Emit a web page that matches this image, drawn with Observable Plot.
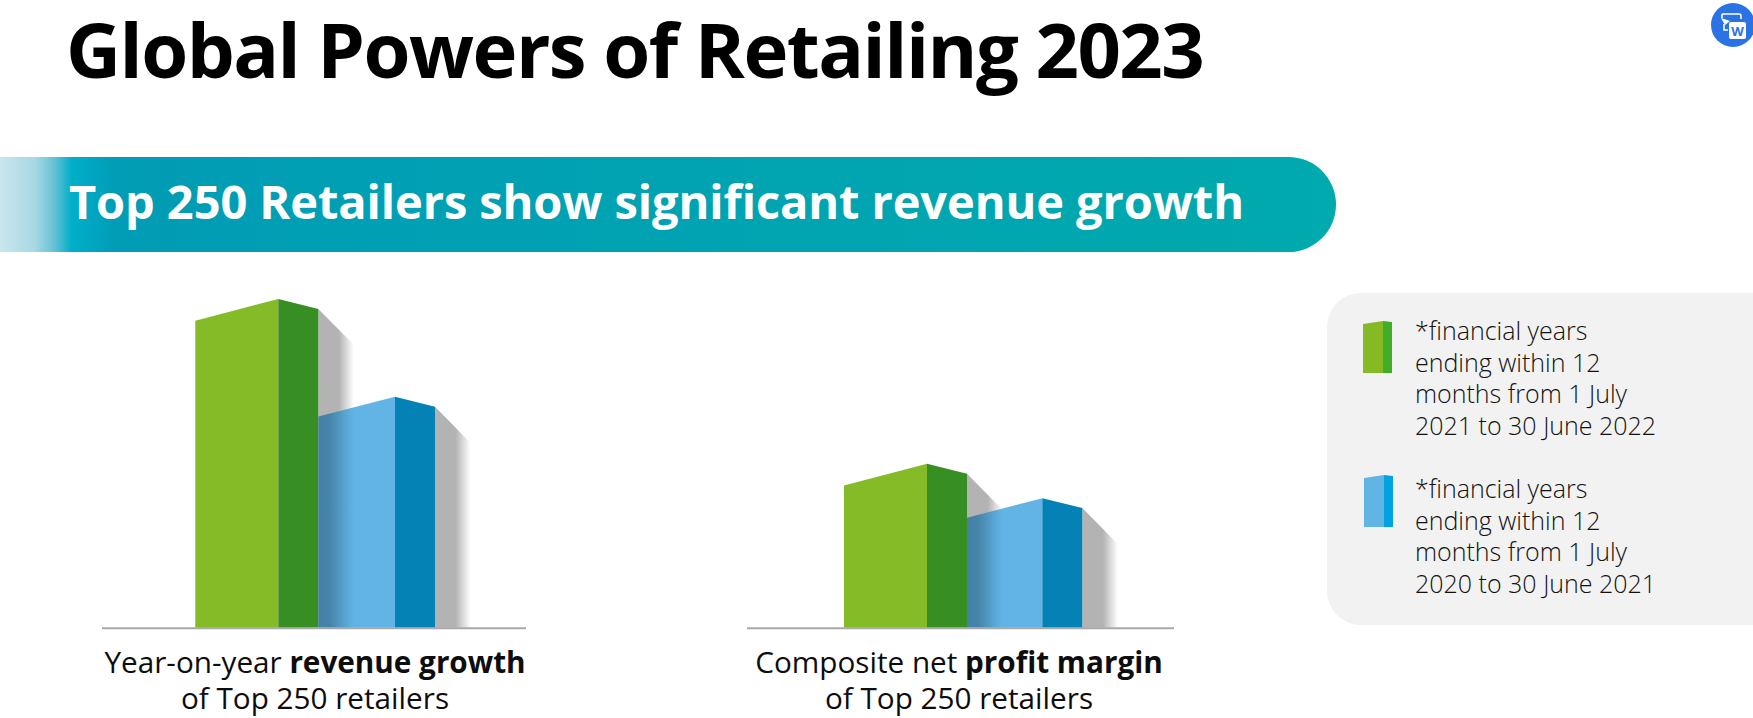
<!DOCTYPE html>
<html>
<head>
<meta charset="utf-8">
<script src="https://cdn.jsdelivr.net/npm/d3@7"></script>
<script src="https://cdn.jsdelivr.net/npm/@observablehq/plot@0.6"></script>
<style>
html,body{margin:0;padding:0;background:#fff;width:1753px;height:718px;overflow:hidden;font-family:"Open Sans",sans-serif;}
.abs{position:absolute;white-space:nowrap;}
svg{background:transparent !important;}
#title{left:66px;top:-3px;font-size:76px;line-height:104px;font-weight:700;color:#000;letter-spacing:-1.55px;}
#pill{left:0;top:157px;width:1336px;height:95px;border-radius:0 47.5px 47.5px 0;
 background:linear-gradient(90deg,#cae6ed 0,#a6d8e4 35px,#62c0d4 55px,#25b5cd 65px,#00afca 72px,#019cb5 115px,#00aaad 100%);}
#sub{left:69px;top:156px;font-size:47px;line-height:90px;font-weight:700;color:#fff;letter-spacing:-0.1px;}
#panel{left:1327px;top:293px;width:426px;height:332px;background:#f2f2f2;border-radius:34px 0 0 34px;}
.cap{width:520px;text-align:center;font-size:29.7px;line-height:36px;color:#0d0d0d;}
.leg{left:1415px;font-size:25px;line-height:31.5px;font-weight:300;color:#111;}
</style>
</head>
<body>
<div id="title" class="abs">Global Powers of Retailing 2023</div>
<div id="pill" class="abs"></div>
<div id="sub" class="abs">Top 250 Retailers show significant revenue growth</div>
<div id="panel" class="abs"></div>
<div id="c0" class="abs"></div>
<div id="c1" class="abs"></div>
<div id="l0" class="abs"></div>
<div id="l1" class="abs"></div>
<div class="abs cap" style="left:55px;top:644px">Year-on-year <b>revenue growth</b><br>of Top 250 retailers</div>
<div class="abs cap" style="left:699px;top:644px">Composite net <b>profit margin</b><br>of Top 250 retailers</div>
<div class="abs leg" style="top:315px">*financial years<br>ending within 12<br>months from 1 July<br>2021 to 30 June 2022</div>
<div class="abs leg" style="top:473px">*financial years<br>ending within 12<br>months from 1 July<br>2020 to 30 June 2021</div>
<svg class="abs" style="left:1711px;top:3px" width="42" height="44" viewBox="0 0 42 44">
 <circle cx="22" cy="22" r="22" fill="#2b72e4"/>
 <path d="M11 11h17a2 2 0 0 1 2 2v3M11 11v4M13 21v6h4" fill="none" stroke="#fff" stroke-width="1.6"/>
 <path d="M10 15l9 3-5 4z" fill="#fff"/>
 <rect x="18" y="19" width="17" height="17" rx="2" fill="#fff"/>
 <text x="26.5" y="33" text-anchor="middle" font-size="13" font-weight="700" fill="#2b72e4" font-family="Open Sans">W</text>
</svg>
<script>
// Relative bar heights (tallest bar = 100); the chart prints no figures.
const metrics = ["Year-on-year revenue growth", "Composite net profit margin"];
const fy2022 = [100, 46.3];
const fy2021 = [68.8, 35.8];
const legendLabels = ["FY2022", "FY2021"];

// Pseudo-3D styling
const colors = {green:"#85bb27", greenSide:"#378e23", blue:"#61b4e5", blueSide:"#0482b5", shade:"#b3b3b3"};
const legendColors = [["#85ba25","#41ae27"],["#60b5e5","#00a3e0"]];

const defsMark = (p) => () => {
  const defs = d3.create("svg:defs");
  const g1 = defs.append("linearGradient").attr("id", p+"shade");
  g1.append("stop").attr("offset","58%").attr("stop-color",colors.shade);
  g1.append("stop").attr("offset","100%").attr("stop-color","#fff");
  const g2 = defs.append("linearGradient").attr("id", p+"blue");
  g2.append("stop").attr("offset","0%").attr("stop-color","#4481a6");
  g2.append("stop").attr("offset","14%").attr("stop-color","#4683a9");
  g2.append("stop").attr("offset","46%").attr("stop-color",colors.blue);
  g2.append("stop").attr("offset","100%").attr("stop-color",colors.blue);
  return defs.node();
};

function face(x0, x1, top0, top1, fill) {
  return Plot.area([{x:x0,y:top0},{x:x1,y:top1}], {x1:"x", y1:()=>0, y2:"y", fill});
}

function building(i, opts) {
  const {width, start, blueFace} = opts;
  const g = fy2022[i], b = fy2021[i];
  const gRise = 7.1, bRise = 6.4, drop = 3.25, fall = 11.7, shadeW = 35.5;
  const a0 = 0, a1 = 83, a2 = 123, b1 = a2 + blueFace, b2 = b1 + 40;
  const p = "c"+i;
  return Plot.plot({
    width, height: 360,
    marginTop:0, marginBottom:0, marginLeft:0, marginRight:0,
    x:{axis:null, domain:[-start, width-start], range:[0,width]},
    y:{axis:null, domain:[0,100], range:[347.7,40.7]},
    marks:[
      defsMark(p),
      face(a2, a2+shadeW, g+gRise-drop, g+gRise-drop-fall, `url(#${p}shade)`),
      face(b2, b2+shadeW, b+bRise-drop, b+bRise-drop-fall, `url(#${p}shade)`),
      face(a0, a1, g, g+gRise, colors.green),
      face(a1, a2, g+gRise, g+gRise-drop, colors.greenSide),
      face(a2, b1, b, b+bRise, `url(#${p}blue)`),
      face(b1, b2, b+bRise, b+bRise-drop, colors.blueSide),
      Plot.ruleY([0], {stroke:"#a9a9a9", strokeWidth:2})
    ]
  });
}

function place(id, node, left, top) {
  const el = document.getElementById(id);
  el.style.left = left+"px"; el.style.top = top+"px";
  el.appendChild(node);
}
place("c0", building(0, {width:424, start:93.3, blueFace:76.7}), 102, 280);
place("c1", building(1, {width:427, start:97, blueFace:75.3}), 747, 280);

function swatch(i) {
  const [front, side] = legendColors[i];
  return Plot.plot({
    width:30, height:54, marginTop:0, marginBottom:0, marginLeft:0, marginRight:0,
    x:{axis:null, domain:[0,30], range:[0,30]},
    y:{axis:null, domain:[0,54], range:[53,-1]},
    marks:[
      face(0, 20, 49, 52, front),
      face(20, 29, 52, 51, side)
    ]
  });
}
place("l0", swatch(0), 1363, 320);
place("l1", swatch(1), 1364, 474);
</script>
</body>
</html>
